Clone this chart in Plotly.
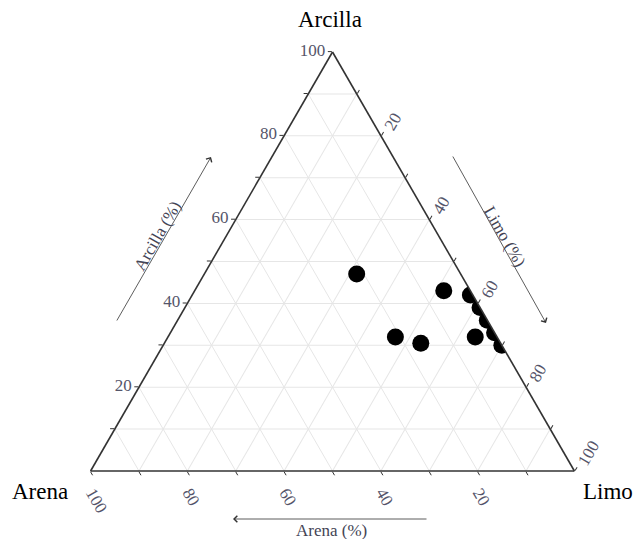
import plotly.graph_objects as go

# Soil texture samples (%)
arcilla = [47, 43, 42, 39, 36, 33, 30, 32, 32, 30.5]
arena = [21.5, 5.5, 0.5, 0, 0, 0, 0, 4.5, 21, 16.5]
limo = [31.5, 51.5, 57.5, 61, 64, 67, 70, 63.5, 47, 53]

tick_vals = [10, 20, 30, 40, 50, 60, 70, 80, 90, 100]
tick_text = ["", "20", "", "40", "", "60", "", "80", "", "100"]

W, H = 644, 539
OX, OY = 8, 8  # page body offset of the plot div
serif = "Liberation Serif, Times New Roman, serif"
tick_font = dict(family=serif, size=17, color="#55556a")


def px(x):
    return (x - OX) / W


def py(y):
    return 1 - (y - OY) / H


fig = go.Figure()
fig.add_trace(go.Scatterternary(
    a=arcilla, b=arena, c=limo, mode="markers",
    marker=dict(color="black", size=17, line=dict(width=0)),
    cliponaxis=True, showlegend=False, hoverinfo="a+b+c"))


def axis(angle):
    return dict(
        title=dict(text=""),
        tickmode="array", tickvals=tick_vals, ticktext=tick_text,
        tickfont=tick_font, tickangle=angle,
        ticks="outside", ticklen=4, tickcolor="#333333",
        showgrid=True, gridcolor="#e6e6e6", gridwidth=1,
        showline=True, linecolor="#333333", linewidth=1.6,
        min=0)


fig.update_layout(
    width=W, height=H,
    paper_bgcolor="white", plot_bgcolor="white",
    margin=dict(l=0, r=0, t=0, b=0),
    ternary=dict(
        sum=100, bgcolor="white",
        domain=dict(x=[px(90), px(575)], y=[py(471), py(52)]),
        aaxis=axis(0),
        baxis=axis(60),
        caxis=axis(-60),
    ),
)


def title(x, y, text, anchor="center"):
    fig.add_annotation(
        x=px(x), y=py(y), xref="paper", yref="paper",
        xanchor=anchor, yanchor="middle",
        text=text, showarrow=False,
        font=dict(family=serif, size=23, color="black"))


def arrow(x0, y0, x1, y1):
    # tail (x0,y0) -> head (x1,y1) in pixel coordinates
    fig.add_annotation(
        x=px(x1), y=py(y1), xref="paper", yref="paper",
        ax=x0 - x1, ay=y0 - y1, axref="pixel", ayref="pixel",
        text="", showarrow=True, arrowhead=4, arrowsize=1.6,
        arrowwidth=0.8, arrowcolor="#333333")


def label(x, y, text, angle):
    fig.add_annotation(
        x=px(x), y=py(y), xref="paper", yref="paper",
        xanchor="center", yanchor="middle",
        text=text, showarrow=False, textangle=angle,
        font=dict(family=serif, size=17, color="#444455"))


title(330, 19, "Arcilla")
title(40, 491, "Arena")
title(635, 491, "Limo", anchor="right")

arrow(116, 322, 211, 157)
label(157, 236, "Arcilla (%)", -60)
arrow(452, 155, 546, 323)
label(505, 236, "Limo (%)", 60)
arrow(428, 519, 233, 519)
label(331, 530, "Arena (%)", 0)

fig.write_html("out.html")
